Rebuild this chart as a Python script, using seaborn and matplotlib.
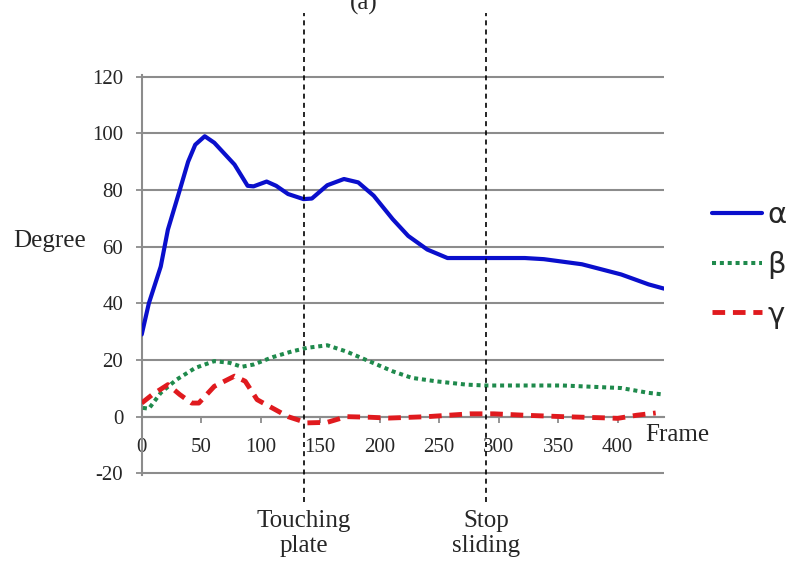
import seaborn as sns
import pandas as pd
import matplotlib.pyplot as plt
import matplotlib.transforms as mtransforms

# alpha (blue solid)
alpha_x = [0, 6, 16, 22, 32, 39, 45, 53, 61, 78, 89, 94, 105, 113, 123, 136, 143, 156, 170, 182,
           195, 211, 224, 240, 257, 289, 322, 338, 370, 403, 426, 439]
alpha_y = [29, 40, 53, 66, 80, 90, 96, 99, 96.7, 89, 81.5, 81.3, 83, 81.5, 78.6, 76.8, 77, 81.7, 83.9, 82.7,
           78, 69.7, 63.8, 59, 56, 56, 56, 55.6, 53.8, 50.2, 46.7, 45.2]

# beta (green dotted)
beta_x = [1, 6, 16, 29, 45, 61, 74, 84, 94, 110, 126, 139, 156, 172, 191, 211, 227, 247, 273,
          289, 322, 354, 403, 426, 439]
beta_y = [3.1, 2.8, 8.4, 13, 17.2, 19.6, 19, 17.6, 18.4, 21, 23, 24.3, 25.2, 23, 19.6, 16, 13.7, 12.5, 11.3,
          11, 11, 11, 10.1, 8.4, 7.8]

# gamma (red dashed)
gamma_x = [0, 9, 22, 32, 42, 48, 61, 78, 87, 97, 110, 123, 139, 156, 172, 191, 208, 240, 276,
           296, 322, 354, 387, 400, 416, 432]
gamma_y = [4.8, 7.8, 11.3, 7.8, 4.8, 4.8, 10.7, 14.3, 12.5, 6, 3, 0, -2.2, -2, 0, -0.2, -0.5, 0, 1,
           1, 0.5, 0, -0.4, -0.6, 0.5, 1.3]

xticks = [0, 50, 100, 150, 200, 250, 300, 350, 400]
yticks = [-20, 0, 20, 40, 60, 80, 100, 120]
events_x = [136.5, 289.5]
events_lbl = ["Touching\nplate", "Stop\nsliding"]

sns.set_style("white")
plt.rcParams['font.family'] = ['Liberation Serif', 'DejaVu Serif']
plt.rcParams['axes.unicode_minus'] = False

fig = plt.figure(figsize=(7.89, 5.63), dpi=100)
ax = fig.add_axes([0.1796, 0.1568, 0.662, 0.7094])

grid_c = "#8c8c8c"
for yv in yticks:
    ax.axhline(yv, color=grid_c, lw=1.5, zorder=0)

sns.lineplot(x=alpha_x, y=alpha_y, ax=ax, color="#0a0fcc", lw=3.0, label="α", zorder=3)
sns.lineplot(x=beta_x, y=beta_y, ax=ax, color="#1f8a4c", lw=2.9, label="β", zorder=3,
             linestyle=(0, (1, 0.95)))
sns.lineplot(x=gamma_x, y=gamma_y, ax=ax, color="#e01a1e", lw=3.5, label="γ", zorder=3,
             linestyle=(0, (2.6, 1.6)))

ax.set_xlim(0, 439)
ax.set_ylim(-20.5, 120.5)
ax.set_xticks(xticks)
ax.set_yticks(yticks)
ax.set_xlabel("")
ax.set_ylabel("")

for s in ["top", "right"]:
    ax.spines[s].set_visible(False)
ax.spines["left"].set_color(grid_c)
ax.spines["left"].set_linewidth(1.5)
ax.spines["bottom"].set_position(("data", 0))
ax.spines["bottom"].set_color(grid_c)
ax.spines["bottom"].set_linewidth(1.5)
ax.tick_params(axis="x", direction="out", length=4.2, width=1.3, color=grid_c, pad=11,
               labelsize=15, bottom=True)
ax.tick_params(axis="y", direction="out", length=4.2, width=1.3, color=grid_c, pad=9,
               labelsize=15, left=True)

# event markers
trans = mtransforms.blended_transform_factory(ax.transData, fig.transFigure)
for ex, lbl in zip(events_x, events_lbl):
    ax.axvline(ex, ymin=-0.068, ymax=1.156, color="black", lw=1.2, ls=(0, (3, 2.5)),
               clip_on=False, zorder=4)
    ax.text(ex, 1 - 510 / 563, lbl, transform=trans, ha="center", va="top", fontsize=18)

fig.text(645 / 789, 1 - 435 / 563, "Frame", ha="left", va="center", fontsize=18)
fig.text(13 / 789, 1 - 241 / 563, "Degree", ha="left", va="center", fontsize=18)
fig.text(363.5 / 789, 1 - 10 / 563, "(a)", ha="center", va="baseline", fontsize=18)

leg = ax.legend(loc="upper left", bbox_to_anchor=(0.8695, 0.689), bbox_transform=fig.transFigure,
                frameon=False, handlelength=1.72, handletextpad=0.17, labelspacing=0.74,
                prop={"family": "DejaVu Sans", "size": 21})

fig.savefig("out.png", dpi=100)
